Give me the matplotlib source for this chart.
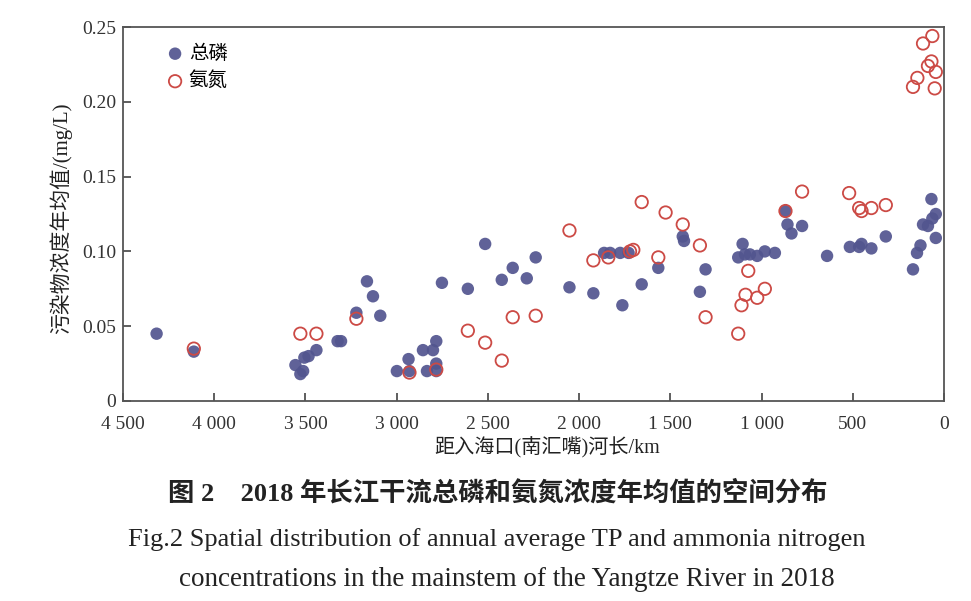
import matplotlib
matplotlib.use("Agg")
import matplotlib.pyplot as plt
from matplotlib.ticker import FuncFormatter

plt.rcParams['font.family'] = ['Liberation Serif', 'Noto Sans CJK SC']

# distance to river mouth (km) and annual mean concentration (mg/L)
tp_dist = [4316, 4112, 3555, 3528, 3513, 3506, 3483, 3440, 3324, 3305,
           3221, 3163, 3130, 3090, 2999, 2935, 2930, 2856, 2834, 2801,
           2783, 2783, 2783, 2752, 2610, 2515, 2424, 2364, 2287, 2238,
           2053, 1922, 1863, 1830, 1775, 1729, 1763, 1657, 1566, 1432,
           1425, 1338, 1307, 1128, 1104, 1091, 1064, 1024, 982, 927,
           869, 858, 836, 778, 641, 516, 465, 452, 398, 319,
           170, 148, 129, 115, 88, 69, 64, 45, 45]
tp_val = [0.045, 0.033, 0.024, 0.018, 0.020, 0.029, 0.030, 0.034, 0.040, 0.040,
          0.059, 0.080, 0.070, 0.057, 0.020, 0.028, 0.020, 0.034, 0.020, 0.034,
          0.040, 0.025, 0.020, 0.079, 0.075, 0.105, 0.081, 0.089, 0.082, 0.096,
          0.076, 0.072, 0.099, 0.099, 0.099, 0.099, 0.064, 0.078, 0.089, 0.110,
          0.107, 0.073, 0.088, 0.096, 0.105, 0.098, 0.098, 0.097, 0.100, 0.099,
          0.127, 0.118, 0.112, 0.117, 0.097, 0.103, 0.103, 0.105, 0.102, 0.110,
          0.088, 0.099, 0.104, 0.118, 0.117, 0.135, 0.122, 0.125, 0.109]

nh3_dist = [4112, 3528, 3440, 3221, 2930, 2783, 2610, 2515, 2424, 2364,
            2238, 2053, 1922, 1840, 1721, 1703, 1657, 1566, 1526, 1432,
            1338, 1307, 1128, 1110, 1088, 1073, 1024, 982, 869, 778,
            520, 465, 452, 398, 319, 170, 146, 115, 64, 88,
            69, 45, 51]
nh3_val = [0.035, 0.045, 0.045, 0.055, 0.019, 0.021, 0.047, 0.039, 0.027, 0.056,
           0.057, 0.114, 0.094, 0.096, 0.100, 0.101, 0.133, 0.096, 0.126, 0.118,
           0.104, 0.056, 0.045, 0.064, 0.071, 0.087, 0.069, 0.075, 0.127, 0.140,
           0.139, 0.129, 0.127, 0.129, 0.131, 0.210, 0.216, 0.239, 0.244, 0.224,
           0.227, 0.220, 0.209]

x_ticks = [4500, 4000, 3500, 3000, 2500, 2000, 1500, 1000, 500, 0]
y_ticks = [0, 0.05, 0.10, 0.15, 0.20, 0.25]

fig = plt.figure(figsize=(9.71, 6.01), dpi=100)
ax = fig.add_axes([0.1267, 0.3328, 0.8455, 0.6222])

ax.scatter(tp_dist, tp_val, s=80, color='#52558f', alpha=0.92,
           edgecolors='none', label='总磷', zorder=2)
ax.scatter(nh3_dist, nh3_val, s=80, facecolors='none', edgecolors='#cc4a45',
           linewidths=1.3, label='氨氮', zorder=3)

ax.set_xlim(4500, 0)
ax.set_ylim(0, 0.25)
ax.set_xticks(x_ticks)
ax.set_yticks(y_ticks)
ax.xaxis.set_major_formatter(FuncFormatter(lambda v, p: f'{int(v):,}'.replace(',', ' ')))
ax.yaxis.set_major_formatter(FuncFormatter(lambda v, p: '0' if v == 0 else f'{v:.2f}'))
ax.tick_params(direction='in', length=6, width=1.1, labelsize=14, colors='#333333',
               top=False, right=False, pad=5)
ax.tick_params(axis='x', pad=11)
for sp in ax.spines.values():
    sp.set_linewidth(1.3)
    sp.set_color('#555555')

ax.set_xlabel('距入海口(南汇嘴)河长/km', fontsize=14.5, color='#222222')
ax.set_ylabel('污染物浓度年均值/(mg/L)', fontsize=15, color='#222222')
ax.xaxis.set_label_coords(0.517, -0.097)
ax.yaxis.set_label_coords(-0.062, 0.49)

leg = ax.legend(loc='upper left', frameon=False, fontsize=14, handletextpad=0.2,
                handlelength=1.0, borderaxespad=0.3, labelspacing=0.45,
                bbox_to_anchor=(0.035, 0.99))

# figure caption
fig.text(0.513, 1 - 493 / 601, '图 2　2018 年长江干流总磷和氨氮浓度年均值的空间分布',
         ha='center', va='center', fontsize=19, fontweight='bold', color='#222222')
fig.text(0.512, 1 - 540 / 601,
         'Fig.2 Spatial distribution of annual average TP and ammonia nitrogen',
         ha='center', va='center', fontsize=19, color='#222222')
fig.text(0.522, 1 - 579 / 601,
         'concentrations in the mainstem of the Yangtze River in 2018',
         ha='center', va='center', fontsize=19.5, color='#222222')

fig.savefig('out.png', dpi=100)
